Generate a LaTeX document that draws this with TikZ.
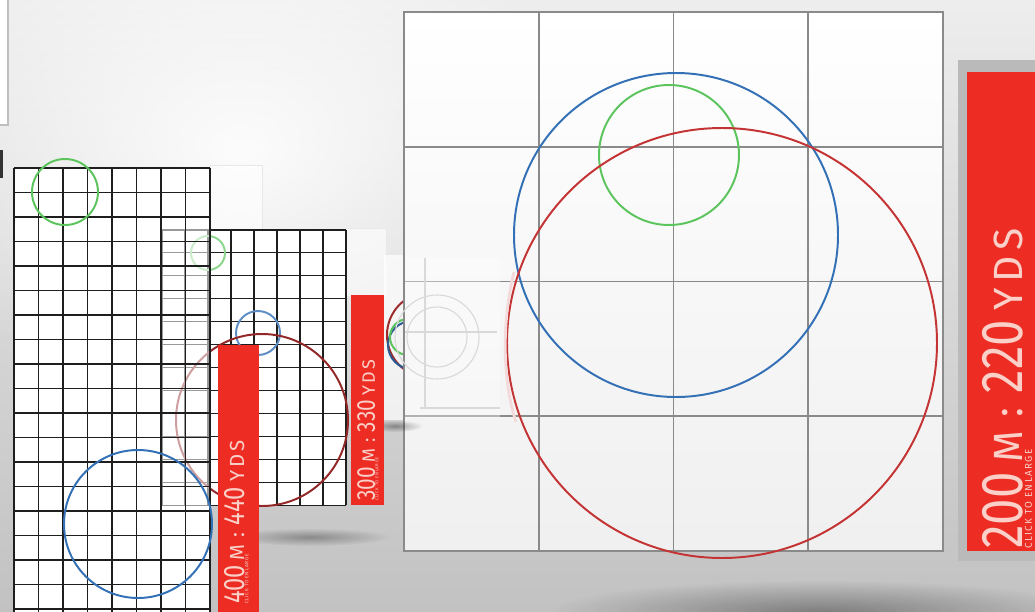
\documentclass[tikz,border=0pt]{standalone}
\usepackage{fontspec}
\newfontfamily\digitfont[FakeStretch=0.8]{Fira Sans}
\newfontfamily\unitfont[LetterSpace=14]{Fira Sans}
\usetikzlibrary{fadings}
\definecolor{stripred}{RGB}{237,45,36}
\definecolor{stripink}{RGB}{250,208,200}
\definecolor{ringblue}{RGB}{52,112,182}
\definecolor{ringgreen}{RGB}{92,196,92}
\definecolor{ringred}{RGB}{196,52,52}
\definecolor{gridgray}{RGB}{138,138,138}
\definecolor{gridink}{RGB}{30,30,30}
\tikzfading[name=glow,inner color=transparent!0,outer color=transparent!100]
\tikzset{
  frame/.style={draw=gridgray,line width=1.5pt},
  bigline/.style={draw=gridgray,line width=1.1pt},
  fineline/.style={draw=gridink,line width=0.75pt},
  ghost/.style={draw=gray!30,line width=0.8pt},
  ring/.style={draw=#1,line width=1.4pt},
  ring/.default=ringred,
  strip/.style={fill=stripred},
  yardlbl/.style={rotate=90,anchor=north west,inner sep=0pt,text=stripink,scale=#1},
  yardlbl/.default=1,
  clicklbl/.style={rotate=90,anchor=north west,inner sep=0pt,text=stripink,scale=#1,
    font=\unitfont\fontsize{7}{7}\selectfont},
  clicklbl/.default=1,
  haze/.style={fill=#1,path fading=glow},
}
\newcommand\yards[2]{{\digitfont\fontsize{42}{42}\selectfont #1}\kern7pt
  {\unitfont\fontsize{29}{29}\selectfont M\kern10pt:}\kern10pt
  {\digitfont\fontsize{42}{42}\selectfont #2}\kern7pt
  {\unitfont\fontsize{29}{29}\selectfont YDS}}

\begin{document}
\begin{tikzpicture}[x=0.025cm,y=-0.025cm]
  \useasboundingbox (0,0) rectangle (1035,612);
  % backdrop
  \shade[top color=white!93!black,bottom color=black!24] (0,0) rectangle (1035,612);
  \fill[haze=white,opacity=.9] (240,150) ellipse (360 and 260);
  \fill[haze=black,opacity=.35] (820,612) ellipse (270 and 32);
  \fill[white] (0,0) rectangle (8,125);
  \draw[gray!50,line width=0.8pt] (8,0) -- (8,125) -- (0,125);
  \fill[black!80] (0,150) rectangle (3,178);

  % faint panels behind
  \fill[white,opacity=.6] (210,165) rectangle (262,232);
  \draw[gray!18] (210,165) rectangle (262,232);
  \fill[white,opacity=.6] (346,228) rectangle (386,296);
  \draw[gray!18] (346,228) rectangle (386,296);
  \fill[white,opacity=.7] (384,255) rectangle (404,420);

  % 300 m target, mostly hidden
  \draw[ring=ringred!80!black] (430,335) circle (43);
  \draw[ring=ringblue!80!black] (412,345) circle (24);
  \draw[ring=ringgreen] (408,337) circle (18);

  % 200 m target
  \shade[top color=white,bottom color=black!6] (404,12) rectangle (943,551);
  \foreach \k in {1,2,3} {
    \draw[bigline] ({404+\k*134.75},12) -- ({404+\k*134.75},551);
    \draw[bigline] (404,{12+\k*134.75}) -- (943,{12+\k*134.75});
  }
  \draw[frame] (404,12) rectangle (943,551);
  \draw[ring=ringblue] (676,235) circle (162);
  \draw[ring=ringgreen] (669,155) circle (70);
  \draw[ring=ringred] (722,343) circle (215);
  \fill[white,opacity=.35] (405,258) rectangle (500,418);
  \draw[ghost] (437,337) circle (42) (437,337) circle (30);
  \draw[ghost] (425,258) -- (425,408) (405,332) -- (497,332) (420,408) -- (500,408);
  \draw[ringred!18,line width=2pt] (514,272) .. controls (502,320) and (502,380) .. (516,422);

  % 330 yds target
  \fill[white] (14,168) rectangle (210,612);
  \fill[white] (162,230) rectangle (346,505);
  \foreach \c in {0,...,8}
    \draw[fineline] ({162+\c*23},230) -- ({162+\c*23},505);
  \foreach \r in {0,...,12}
    \draw[fineline] (162,{230+\r*22.92}) -- (346,{230+\r*22.92});
  \draw[ring=ringgreen!70] (208,253) circle (17);
  \draw[ring=ringblue!80] (258,333) circle (22);
  \draw[ring=ringred!75!black] (262,420) circle (86);
  \fill[haze=black,opacity=.3] (310,537) ellipse (80 and 9);

  % 440 yds target
  \fill[white,opacity=.55] (14,168) rectangle (210,612);
  \foreach \c in {0,...,8}
    \draw[fineline] ({14+\c*24.5},168) -- ({14+\c*24.5},612);
  \foreach \r in {0,...,18}
    \draw[fineline] (14,{168+\r*24.5}) -- (210,{168+\r*24.5});
  \draw[ring=ringgreen] (65,192) circle (33);
  \draw[ring=ringblue] (138,524) circle (74);

  % distance strips
  \fill[haze=black,opacity=.35] (395,426) ellipse (28 and 6);
  \fill[strip] (218,345) rectangle (259,612);
  \node[yardlbl=0.5] (lbl400) at (224,604) {\yards{400}{440}};
  \node[clicklbl=0.5] (clk400) at (lbl400.south west) {CLICK TO ENLARGE};
  \fill[strip] (351,295) rectangle (384,505);
  \node[yardlbl=0.44] (lbl300) at (357,501) {\yards{300}{330}};
  \node[clicklbl=0.44] (clk300) at (lbl300.south west) {CLICK TO ENLARGE};
  \fill[black!27] (958,60) rectangle (1035,561);
  \fill[strip] (967,72) rectangle (1035,551);
  \node[yardlbl] (lbl200) at (982,549) {\yards{200}{220}};
  \node[clicklbl,yshift=-1pt] (clk200) at (lbl200.south west) {CLICK TO ENLARGE};
\end{tikzpicture}
\end{document}
